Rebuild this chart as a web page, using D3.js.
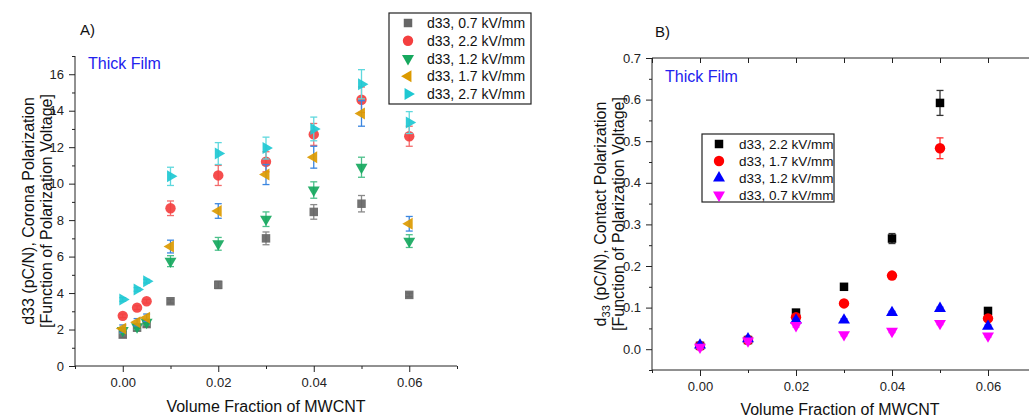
<!DOCTYPE html>
<html>
<head>
<meta charset="utf-8">
<script src="https://cdn.jsdelivr.net/npm/d3@7"></script>
<style>
  body { margin: 0; background: #fff; }
  svg { font-family: "Liberation Sans", Arial, sans-serif; }
  .tick text { font-size: 13px; fill: #222; }
  .domain, .tick line { stroke: #222; }
</style>
</head>
<body>
<div id="viz"></div>
<script>
// panel A: corona polarization
const xA = [0, 0.003, 0.005, 0.01, 0.02, 0.03, 0.04, 0.05, 0.06];
const a07 = [1.72, 2.1, 2.3, 3.55, 4.45, 7.0, 8.45, 8.9, 3.9];
const a07err = [0.15, 0.15, 0.15, 0.1, 0.2, 0.35, 0.4, 0.45, 0.1];
const a22 = [2.75, 3.2, 3.55, 8.65, 10.45, 11.2, 12.7, 14.6, 12.6];
const a22err = [0.1, 0.1, 0.1, 0.4, 0.55, 0.55, 0.6, 0.7, 0.55];
const a12 = [1.95, 2.15, 2.4, 5.75, 6.7, 8.05, 9.65, 10.9, 6.85];
const a12err = [0.15, 0.15, 0.15, 0.3, 0.35, 0.4, 0.45, 0.55, 0.35];
const a17 = [2.05, 2.4, 2.65, 6.55, 8.5, 10.5, 11.45, 13.85, 7.8];
const a17err = [0.2, 0.2, 0.2, 0.35, 0.4, 0.55, 0.6, 0.7, 0.4];
const a27 = [3.65, 4.2, 4.65, 10.4, 11.65, 11.95, 13.0, 15.45, 13.35];
const a27err = [0.1, 0.1, 0.1, 0.5, 0.6, 0.6, 0.65, 0.8, 0.6];
const labelsA = ['d33, 0.7 kV/mm', 'd33, 2.2 kV/mm', 'd33, 1.2 kV/mm', 'd33, 1.7 kV/mm', 'd33, 2.7 kV/mm'];

// panel B: contact polarization
const xB = [0, 0.01, 0.02, 0.03, 0.04, 0.05, 0.06];
const b22 = [0.008, 0.022, 0.088, 0.15, 0.266, 0.592, 0.092];
const b22err = [0.004, 0.004, 0.005, 0.004, 0.012, 0.03, 0.004];
const b17 = [0.008, 0.022, 0.077, 0.11, 0.177, 0.483, 0.074];
const b17err = [0.004, 0.004, 0.004, 0.004, 0.006, 0.025, 0.004];
const b12 = [0.01, 0.025, 0.07, 0.07, 0.088, 0.098, 0.055];
const b12err = [0.004, 0.004, 0.004, 0.003, 0.003, 0.003, 0.003];
const b07 = [0.005, 0.02, 0.057, 0.035, 0.043, 0.062, 0.032];
const b07err = [0.004, 0.004, 0.004, 0.003, 0.003, 0.003, 0.003];
const labelsB = ['d33, 2.2 kV/mm', 'd33, 1.7 kV/mm', 'd33, 1.2 kV/mm', 'd33, 0.7 kV/mm'];

const xTicks = [0, 0.02, 0.04, 0.06];

const seriesA = [
  { y: a07, e: a07err, sym: d3.symbolSquare, rot: 0, fill: '#666666', bar: '#8a8a8a', name: labelsA[0] },
  { y: a22, e: a22err, sym: d3.symbolCircle, rot: 0, fill: '#f43f3f', bar: '#f36b6b', name: labelsA[1] },
  { y: a12, e: a12err, sym: d3.symbolTriangle, rot: 180, fill: '#16a85e', bar: '#4cc08a', name: labelsA[2] },
  { y: a17, e: a17err, sym: d3.symbolTriangle, rot: -90, fill: '#dc9a00', bar: '#3b86e0', name: labelsA[3] },
  { y: a27, e: a27err, sym: d3.symbolTriangle, rot: 90, fill: '#1ec8d2', bar: '#5fd8de', name: labelsA[4] }
];
const seriesB = [
  { y: b22, e: b22err, sym: d3.symbolSquare, rot: 0, fill: '#000000', bar: '#333', name: labelsB[0] },
  { y: b17, e: b17err, sym: d3.symbolCircle, rot: 0, fill: '#ff0000', bar: '#ff3030', name: labelsB[1] },
  { y: b12, e: b12err, sym: d3.symbolTriangle, rot: 0, fill: '#0000ff', bar: '#3030ff', name: labelsB[2] },
  { y: b07, e: b07err, sym: d3.symbolTriangle, rot: 180, fill: '#ff00ff', bar: '#ff40ff', name: labelsB[3] }
];

const svg = d3.select('#viz').append('svg')
  .attr('width', 1029).attr('height', 418);

function sym(s) {
  const size = s.sym === d3.symbolSquare ? 72 : (s.sym === d3.symbolCircle ? 85 : 62);
  return d3.symbol().type(s.sym).size(size)();
}

function panel(opt) {
  const x = d3.scaleLinear().domain([-0.01, 0.07]).range([opt.left, opt.right]);
  const y = d3.scaleLinear().domain(opt.yDomain).range([opt.bottom, opt.top]);
  const g = svg.append('g');

  // minor ticks
  const xMinor = d3.range(-0.01, 0.0701, 0.01).filter(v => !xTicks.some(t => Math.abs(t - v) < 1e-9));
  g.append('g').attr('transform', `translate(0,${opt.bottom})`)
    .call(d3.axisBottom(x).tickValues(xMinor).tickSize(3).tickFormat(''))
    .call(a => a.select('.domain').remove());
  g.append('g').attr('transform', `translate(${opt.left},0)`)
    .call(d3.axisLeft(y).tickValues(opt.yMinor).tickSize(3).tickFormat(''))
    .call(a => a.select('.domain').remove());

  g.append('g').attr('transform', `translate(0,${opt.bottom})`)
    .call(d3.axisBottom(x).tickValues(xTicks).tickSize(6).tickPadding(6).tickFormat(d3.format('.2f')))
    .call(a => a.select('.domain').attr('d', `M${opt.left},0H${opt.right}`));
  g.append('g').attr('transform', `translate(${opt.left},0)`)
    .call(d3.axisLeft(y).tickValues(opt.yTicks).tickSize(6).tickPadding(5).tickFormat(opt.yFormat))
    .call(a => a.select('.domain').attr('d', `M0,${opt.top}V${opt.bottom}`));

  if (opt.topAxis) {
    const xAll = d3.range(-0.01, 0.0701, 0.01);
    g.append('g').attr('transform', `translate(0,${opt.top})`)
      .call(d3.axisBottom(x).tickValues(xAll).tickSize(5).tickFormat(''))
      .call(a => a.select('.domain').attr('d', `M${opt.left},0H${opt.right}`));
  }

  opt.series.forEach(s => {
    const pts = opt.xs.map((xv, i) => ({ x: xv, y: s.y[i], e: s.e[i] }));
    const eb = g.append('g').attr('stroke', s.bar).attr('stroke-width', 1.3);
    pts.forEach(p => {
      const cx = x(p.x), y1 = y(p.y + p.e), y0 = y(p.y - p.e);
      eb.append('line').attr('x1', cx).attr('x2', cx).attr('y1', y1).attr('y2', y0);
      eb.append('line').attr('x1', cx - 3.5).attr('x2', cx + 3.5).attr('y1', y1).attr('y2', y1);
      eb.append('line').attr('x1', cx - 3.5).attr('x2', cx + 3.5).attr('y1', y0).attr('y2', y0);
    });
    g.append('g').selectAll('path').data(pts).join('path')
      .attr('d', sym(s))
      .attr('fill', s.fill)
      .attr('opacity', opt.markerOpacity)
      .attr('transform', d => `translate(${x(d.x)},${y(d.y)}) rotate(${s.rot})`);
  });

  // legend
  const lg = svg.append('g').attr('transform', `translate(${opt.legend.x},${opt.legend.y})`);
  lg.append('rect').attr('width', opt.legend.w).attr('height', opt.legend.h)
    .attr('fill', '#fff').attr('stroke', '#222').attr('stroke-width', 1.2);
  opt.series.forEach((s, i) => {
    const cy = opt.legend.pad + i * opt.legend.step;
    lg.append('path').attr('d', sym(s)).attr('fill', s.fill)
      .attr('transform', `translate(${opt.legend.mx},${cy}) rotate(${s.rot})`);
    lg.append('text').attr('x', opt.legend.tx).attr('y', cy + 5)
      .attr('font-size', opt.legend.fs).attr('fill', '#111').text(s.name);
  });

  svg.append('text').attr('x', opt.tagX).attr('y', opt.tagY)
    .attr('font-size', 15).attr('fill', '#111').text(opt.tag);
  svg.append('text').attr('x', opt.filmX).attr('y', opt.filmY)
    .attr('font-size', 16).attr('fill', '#2222ee').text('Thick Film');

  svg.append('text').attr('x', opt.xLabelX).attr('y', opt.xLabelY)
    .attr('text-anchor', 'middle').attr('font-size', 16).attr('fill', '#111')
    .text('Volume Fraction of MWCNT');

  const cy = (opt.top + opt.bottom) / 2;
  const t1 = svg.append('text').attr('transform', `translate(${opt.yLabelX},${cy}) rotate(-90)`)
    .attr('text-anchor', 'middle').attr('font-size', 16).attr('fill', '#111');
  if (opt.sub) {
    t1.append('tspan').text('d');
    t1.append('tspan').attr('font-size', 11).attr('dy', 4).text('33');
    t1.append('tspan').attr('dy', -4).text(' (pC/N), ' + opt.yLabel);
  } else {
    t1.text('d33 (pC/N), ' + opt.yLabel);
  }
  svg.append('text').attr('transform', `translate(${opt.yLabelX + 18},${cy}) rotate(-90)`)
    .attr('text-anchor', 'middle').attr('font-size', 16).attr('fill', '#111')
    .text('[Function of Polarization Voltage]');
}

panel({
  left: 75, right: 457, top: 56, bottom: 366,
  xLabelX: 266, xLabelY: 412,
  yDomain: [0, 17], yTicks: d3.range(0, 17, 2), yMinor: d3.range(1, 18, 2),
  yFormat: d3.format('d'),
  xs: xA, series: seriesA, markerOpacity: 0.92, topAxis: false,
  legend: { x: 389, y: 13, w: 142, h: 91, pad: 10, step: 17.75, mx: 19, tx: 38, fs: 14 },
  tag: 'A)', tagX: 80, tagY: 35, filmX: 88, filmY: 69,
  yLabelX: 34, yLabel: 'Corona Polarization', sub: false
});

panel({
  left: 652, right: 1036, top: 58, bottom: 370,
  xLabelX: 840, xLabelY: 415,
  yDomain: [-0.05, 0.7], yTicks: d3.range(0, 0.701, 0.1), yMinor: d3.range(-0.05, 0.701, 0.1),
  yFormat: d3.format('.1f'),
  xs: xB, series: seriesB, markerOpacity: 1, topAxis: true,
  legend: { x: 702, y: 134, w: 132, h: 68, pad: 10, step: 17, mx: 17, tx: 37, fs: 13.5 },
  tag: 'B)', tagX: 655, tagY: 37, filmX: 665, filmY: 82,
  yLabelX: 606, yLabel: 'Contact Polarization', sub: true
});
</script>
</body>
</html>
